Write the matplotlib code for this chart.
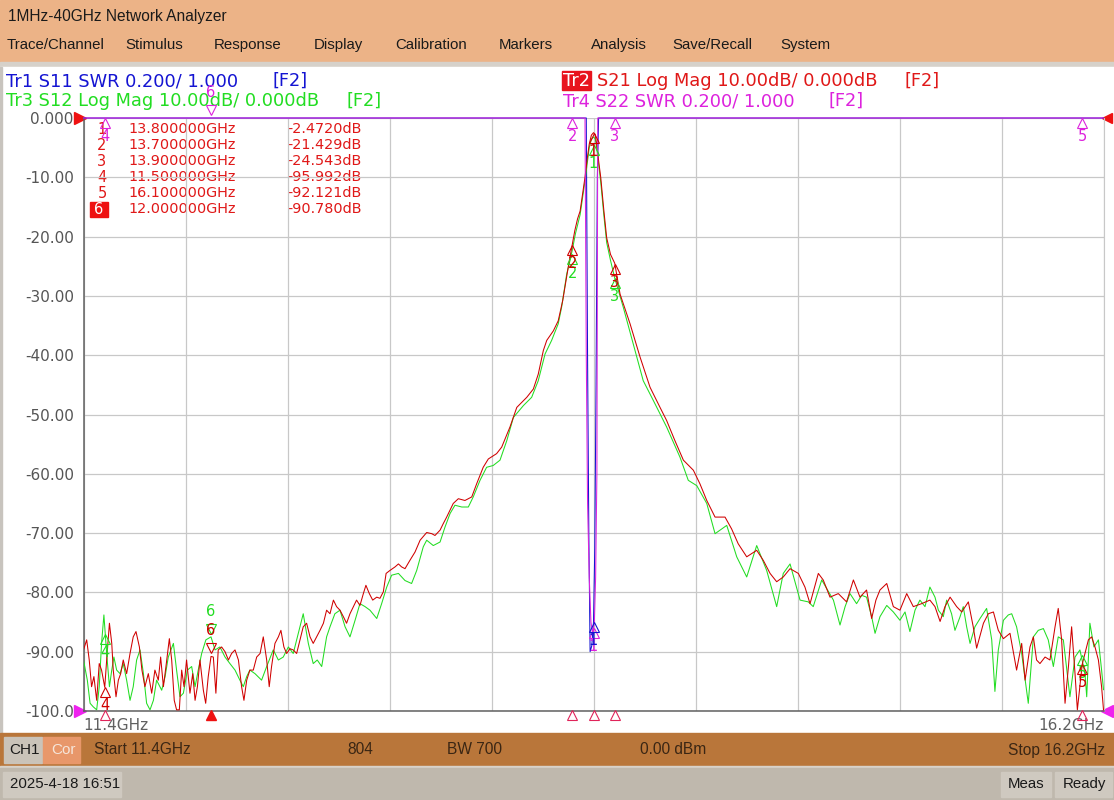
import numpy as np
import matplotlib
matplotlib.use('Agg')
import matplotlib.pyplot as plt
from matplotlib.patches import Rectangle
from matplotlib.transforms import offset_copy, blended_transform_factory

########################## trace data ##########################
# Tr2  S21  Log Mag  (GHz, dB)
s21_freq = [11.400, 11.415, 11.427, 11.438, 11.449, 11.462, 11.474, 11.485, 11.500, 11.509,
            11.522, 11.533, 11.540, 11.553, 11.564, 11.575, 11.587, 11.603, 11.619, 11.634,
            11.647, 11.663, 11.675, 11.689, 11.705, 11.721, 11.736, 11.752, 11.763, 11.776,
            11.788, 11.804, 11.815, 11.827, 11.838, 11.851, 11.862, 11.873, 11.885, 11.901,
            11.914, 11.925, 11.936, 11.948, 11.964, 11.975, 11.987, 12.000, 12.011, 12.023,
            12.034, 12.050, 12.066, 12.082, 12.097, 12.113, 12.129, 12.144, 12.155, 12.168,
            12.183, 12.199, 12.215, 12.231, 12.246, 12.262, 12.274, 12.285, 12.301, 12.317,
            12.329, 12.343, 12.356, 12.372, 12.387, 12.403, 12.419, 12.434, 12.450, 12.466,
            12.481, 12.497, 12.513, 12.529, 12.544, 12.560, 12.576, 12.591, 12.607, 12.623,
            12.638, 12.654, 12.670, 12.685, 12.701, 12.717, 12.729, 12.745, 12.761, 12.780,
            12.795, 12.811, 12.824, 12.842, 12.866, 12.882, 12.897, 12.913, 12.936, 12.960,
            12.984, 13.015, 13.039, 13.054, 13.078, 13.093, 13.109, 13.140, 13.164, 13.195,
            13.227, 13.250, 13.281, 13.305, 13.344, 13.368, 13.407, 13.439, 13.486, 13.517,
            13.540, 13.564, 13.580, 13.611, 13.634, 13.655, 13.671, 13.686, 13.700, 13.712,
            13.725, 13.737, 13.750, 13.760, 13.770, 13.780, 13.790, 13.800, 13.808, 13.815,
            13.825, 13.834, 13.849, 13.862, 13.880, 13.900, 13.925, 13.972, 14.019, 14.066,
            14.113, 14.144, 14.183, 14.223, 14.270, 14.301, 14.333, 14.372, 14.419, 14.450,
            14.481, 14.521, 14.568, 14.599, 14.631, 14.662, 14.693, 14.725, 14.764, 14.795,
            14.819, 14.858, 14.881, 14.913, 14.952, 14.991, 15.023, 15.054, 15.085, 15.109,
            15.129, 15.148, 15.180, 15.211, 15.242, 15.274, 15.305, 15.344, 15.383, 15.407,
            15.431, 15.454, 15.478, 15.509, 15.533, 15.564, 15.587, 15.603, 15.635, 15.658,
            15.682, 15.705, 15.729, 15.760, 15.791, 15.815, 15.831, 15.854, 15.870, 15.885,
            15.901, 15.925, 15.948, 15.972, 15.987, 16.003, 16.019, 16.035, 16.050, 16.066,
            16.077, 16.100, 16.129, 16.144, 16.160, 16.176, 16.191, 16.200]
s21_db = [-89.7, -88.0, -91.4, -95.9, -94.2, -98.2, -92.0, -93.1, -96.0, -91.4,
          -85.2, -88.6, -93.1, -97.6, -94.8, -93.7, -91.4, -93.7, -90.3, -87.5,
          -86.6, -89.2, -93.1, -95.9, -93.7, -97.0, -93.1, -94.8, -90.9, -95.9,
          -92.5, -87.8, -91.4, -98.2, -99.8, -99.8, -93.1, -95.9, -91.4, -97.0,
          -93.7, -98.2, -95.9, -91.4, -96.5, -98.7, -94.2, -90.8, -90.9, -97.0,
          -89.7, -89.2, -90.0, -91.4, -90.3, -89.7, -91.4, -95.9, -98.2, -94.8,
          -93.1, -93.1, -90.9, -90.3, -87.5, -91.4, -95.9, -92.5, -88.6, -87.5,
          -86.4, -89.2, -90.3, -89.5, -89.7, -90.3, -88.0, -85.8, -85.2, -87.5,
          -88.6, -87.5, -86.4, -85.2, -83.0, -83.6, -81.3, -82.4, -83.0, -84.1,
          -85.2, -83.6, -82.4, -81.3, -82.2, -80.2, -78.8, -80.2, -81.3, -80.8,
          -81.0, -79.9, -76.8, -76.3, -75.7, -75.2, -75.7, -76.0, -74.6, -73.2,
          -71.2, -69.9, -70.1, -70.4, -69.5, -68.4, -67.3, -65.0, -64.2, -64.5,
          -63.9, -61.7, -58.9, -57.5, -56.6, -55.5, -52.1, -48.8, -47.1, -45.7,
          -43.2, -39.2, -37.5, -35.9, -34.2, -30.8, -27.4, -24.1, -21.4, -19.0,
          -17.0, -15.7, -12.5, -10.0, -7.0, -4.4, -2.9, -2.47, -2.8, -4.4,
          -7.5, -10.0, -15.7, -20.2, -23.0, -24.5, -29.7, -34.7, -40.3, -45.4,
          -48.8, -51.0, -54.4, -57.7, -59.4, -61.7, -64.5, -67.3, -67.3, -69.3,
          -71.8, -74.0, -72.9, -74.6, -76.8, -78.2, -77.4, -76.0, -76.8, -79.1,
          -81.9, -76.8, -77.9, -80.8, -80.2, -81.6, -77.9, -80.8, -79.6, -84.4,
          -81.3, -79.6, -78.5, -82.4, -83.0, -80.2, -82.4, -81.9, -81.3, -82.4,
          -84.9, -82.4, -80.8, -82.4, -83.3, -81.6, -85.8, -89.4, -85.2, -83.6,
          -83.3, -86.4, -87.8, -86.9, -93.1, -88.6, -94.8, -89.2, -87.5, -91.4,
          -92.0, -90.9, -91.4, -85.8, -82.7, -88.0, -98.7, -92.5, -85.8, -93.7,
          -99.8, -92.1, -88.0, -87.5, -89.2, -91.4, -95.9, -99.8]

# Tr3  S12  Log Mag  (GHz, dB)
s12_freq = [11.400, 11.418, 11.431, 11.446, 11.462, 11.474, 11.485, 11.496, 11.509, 11.522,
            11.533, 11.543, 11.556, 11.572, 11.587, 11.603, 11.619, 11.634, 11.650, 11.666,
            11.682, 11.697, 11.713, 11.729, 11.744, 11.768, 11.784, 11.799, 11.823, 11.838,
            11.854, 11.870, 11.889, 11.909, 11.925, 11.940, 11.956, 11.976, 12.000, 12.019,
            12.042, 12.066, 12.089, 12.113, 12.136, 12.152, 12.168, 12.183, 12.207, 12.238,
            12.262, 12.293, 12.317, 12.340, 12.364, 12.387, 12.411, 12.434, 12.458, 12.481,
            12.500, 12.521, 12.544, 12.560, 12.583, 12.607, 12.631, 12.654, 12.678, 12.701,
            12.725, 12.748, 12.780, 12.803, 12.827, 12.850, 12.882, 12.913, 12.944, 12.968,
            12.999, 13.015, 13.046, 13.078, 13.101, 13.125, 13.148, 13.180, 13.211, 13.234,
            13.266, 13.297, 13.328, 13.360, 13.392, 13.423, 13.470, 13.509, 13.540, 13.572,
            13.603, 13.634, 13.650, 13.674, 13.689, 13.700, 13.715, 13.737, 13.760, 13.780,
            13.790, 13.800, 13.808, 13.815, 13.834, 13.849, 13.862, 13.880, 13.900, 13.940,
            13.987, 14.034, 14.081, 14.144, 14.207, 14.246, 14.286, 14.333, 14.372, 14.427,
            14.474, 14.521, 14.568, 14.615, 14.662, 14.693, 14.725, 14.772, 14.811, 14.834,
            14.874, 14.929, 14.960, 14.984, 15.007, 15.038, 15.062, 15.085, 15.109, 15.125,
            15.148, 15.180, 15.211, 15.242, 15.266, 15.289, 15.313, 15.336, 15.360, 15.383,
            15.407, 15.423, 15.446, 15.462, 15.485, 15.501, 15.525, 15.540, 15.556, 15.572,
            15.595, 15.619, 15.650, 15.674, 15.689, 15.705, 15.729, 15.752, 15.768, 15.791,
            15.815, 15.846, 15.870, 15.893, 15.917, 15.940, 15.964, 15.987, 16.011, 16.042,
            16.066, 16.089, 16.113, 16.121, 16.136, 16.155, 16.176, 16.191, 16.200]
s12_db = [-91.4, -94.8, -98.7, -99.3, -99.8, -95.9, -88.6, -83.8, -90.3, -95.9,
          -93.1, -90.9, -93.1, -93.7, -92.0, -94.8, -98.2, -95.9, -91.4, -89.7,
          -93.7, -98.7, -99.8, -98.2, -94.8, -96.5, -94.2, -90.9, -88.6, -93.1,
          -97.6, -97.0, -93.1, -92.5, -95.9, -93.1, -90.3, -88.0, -87.5, -89.7,
          -89.2, -90.9, -92.0, -93.1, -94.8, -95.9, -94.2, -93.1, -93.7, -94.8,
          -92.5, -89.7, -91.4, -90.9, -89.2, -90.3, -86.9, -83.6, -88.6, -92.0,
          -91.4, -92.5, -87.5, -85.8, -83.6, -83.0, -85.8, -87.5, -84.7, -81.9,
          -82.4, -83.0, -84.4, -81.9, -79.1, -77.1, -76.8, -78.0, -78.5, -76.3,
          -72.3, -71.2, -72.1, -71.5, -69.0, -66.7, -65.3, -65.6, -65.6, -63.9,
          -61.1, -58.9, -58.6, -57.7, -54.4, -50.5, -48.5, -47.1, -44.3, -39.8,
          -37.5, -34.7, -31.9, -26.3, -24.1, -22.3, -19.5, -16.3, -10.6, -5.0,
          -3.6, -3.2, -3.5, -5.0, -10.8, -16.5, -21.0, -24.0, -27.0, -31.9,
          -38.1, -44.3, -47.6, -52.1, -57.2, -61.1, -62.0, -65.0, -70.1, -68.7,
          -74.0, -77.4, -72.1, -76.3, -82.4, -76.8, -75.2, -81.3, -81.6, -82.4,
          -77.9, -81.3, -85.5, -82.4, -80.2, -81.9, -80.5, -80.8, -84.1, -86.9,
          -84.1, -82.2, -83.3, -84.7, -83.3, -86.6, -83.0, -81.3, -82.4, -79.1,
          -80.8, -83.0, -84.1, -81.3, -83.6, -86.4, -84.1, -82.4, -85.8, -88.6,
          -85.8, -84.4, -82.7, -88.0, -96.7, -89.7, -84.7, -83.8, -83.6, -85.8,
          -90.3, -98.7, -87.5, -86.4, -86.1, -88.0, -92.5, -87.5, -88.0, -97.6,
          -90.9, -89.7, -93.7, -97.6, -85.2, -89.2, -88.0, -93.1, -96.4]

# Tr1 S11 / Tr4 S22  SWR (off the top of the screen except near the passband)
s11_freq = [11.400, 13.766, 13.772, 13.778, 13.784, 13.792, 13.800, 13.806, 13.812, 13.818, 13.824, 16.200]
s11_swr = [4.00, 3.50, 2.20, 1.60, 1.20, 1.22, 1.30, 1.55, 2.10, 2.80, 3.50, 4.00]
s22_freq = [11.400, 13.760, 13.766, 13.772, 13.780, 13.788, 13.796, 13.804, 13.810, 13.816, 13.820, 16.200]
s22_swr = [4.00, 3.50, 2.20, 1.70, 1.45, 1.30, 1.26, 1.30, 1.45, 1.80, 3.50, 4.00]

########################## markers ##########################
mkr_freq = [13.8, 13.7, 13.9, 11.5, 16.1, 12.0]
mkr_s21 = [-2.472, -21.429, -24.543, -95.992, -92.121, -90.780]
mkr_s12 = [-4.6, -23.0, -27.0, -87.0, -90.5, -87.5]
mkr_freq_txt = ['13.800000GHz', '13.700000GHz', '13.900000GHz', '11.500000GHz', '16.100000GHz', '12.000000GHz']
mkr_val_txt = ['-2.4720dB', '-21.429dB', '-24.543dB', '-95.992dB', '-92.121dB', '-90.780dB']
active = 5

ytick_vals = [0, -10, -20, -30, -40, -50, -60, -70, -80, -90, -100]
ytick_txt = ['0.000', '-10.00', '-20.00', '-30.00', '-40.00', '-50.00', '-60.00', '-70.00', '-80.00', '-90.00', '-100.0']
xgrid = [11.40, 11.88, 12.36, 12.84, 13.32, 13.80, 14.28, 14.76, 15.24, 15.72, 16.20]

menu_items = ['Trace/Channel', 'Stimulus', 'Response', 'Display', 'Calibration', 'Markers', 'Analysis', 'Save/Recall', 'System']
menu_x = [7, 125, 214, 314, 395, 499, 591, 672, 780]

########################## colours ##########################
c_red = '#D00000'
c_txtred = '#E01818'
c_green = '#22DD22'
c_blue = '#1414D2'
c_mag = '#DD22DD'
c_stim = '#E0245A'

fig = plt.figure(figsize=(11.14, 8.0), dpi=100)

######################### window chrome #########################
bg = fig.add_axes([0, 0, 1, 1])
bg.set_xlim(0, 1114)
bg.set_ylim(800, 0)
bg.axis('off')
bg.add_patch(Rectangle((0, 0), 1114, 62, color='#ECB387'))
bg.add_patch(Rectangle((0, 62), 1114, 5, color='#D6D1CA'))
bg.add_patch(Rectangle((0, 67), 1114, 666, color='white'))
bg.add_patch(Rectangle((0, 67), 2, 666, color='#C8C4BE'))
bg.add_patch(Rectangle((0, 733), 1114, 33, color='#B9763A'))
bg.add_patch(Rectangle((4, 737), 38, 26, color='#CAC3B9'))
bg.add_patch(Rectangle((43, 737), 37, 26, color='#E8976A'))
bg.add_patch(Rectangle((0, 766), 1114, 2, color='#D8D2C9'))
bg.add_patch(Rectangle((0, 768), 1114, 32, color='#BFB8AD'))
bg.add_patch(Rectangle((3, 772), 118, 25, color='#CFC9C0'))
bg.add_patch(Rectangle((1001, 772), 50, 25, color='#CFC9C0'))
bg.add_patch(Rectangle((1055, 772), 57, 25, color='#CFC9C0'))

ui = 'Liberation Sans'
bg.text(8, 16, '1MHz-40GHz Network Analyzer', fontsize=11.2, family=ui, color='#1A1A1A', va='center')
for name, x in zip(menu_items, menu_x):
    bg.text(x, 45, name, fontsize=10.8, family=ui, color='#1A1A1A', va='center')

bg.text(9, 750, 'CH1', fontsize=11, family=ui, color='#1A1A1A', va='center')
bg.text(51, 750, 'Cor', fontsize=11, family=ui, color='#F6E6DA', va='center')
bg.text(94, 750, 'Start 11.4GHz', fontsize=11.2, family=ui, color='#3A2614', va='center')
bg.text(347, 750, '804', fontsize=11.2, family=ui, color='#3A2614', va='center')
bg.text(447, 750, 'BW 700', fontsize=11.2, family=ui, color='#3A2614', va='center')
bg.text(640, 750, '0.00 dBm', fontsize=11.2, family=ui, color='#3A2614', va='center')
bg.text(1105, 750, 'Stop 16.2GHz', fontsize=11.2, family=ui, color='#3A2614', va='center', ha='right')
bg.text(10, 784, '2025-4-18 16:51', fontsize=10.8, family=ui, color='#1A1A1A', va='center')
bg.text(1026, 784, 'Meas', fontsize=10.8, family=ui, color='#1A1A1A', va='center', ha='center')
bg.text(1084, 784, 'Ready', fontsize=10.8, family=ui, color='#1A1A1A', va='center', ha='center')

# trace titles
hf = 12.8
bg.text(6, 81, 'Tr1 S11 SWR 0.200/ 1.000', fontsize=hf, color=c_blue, va='center')
bg.text(272, 81, '[F2]', fontsize=hf, color=c_blue, va='center')
bg.text(6, 101, 'Tr3 S12 Log Mag 10.00dB/ 0.000dB', fontsize=hf, color=c_green, va='center')
bg.text(347, 101, '[F2]', fontsize=hf, color=c_green, va='center')
bg.add_patch(Rectangle((562, 71), 29, 19, color='#E8141E'))
bg.text(563, 81, 'Tr2', fontsize=hf, color='white', va='center')
bg.text(597, 81, 'S21 Log Mag 10.00dB/ 0.000dB', fontsize=hf, color=c_txtred, va='center')
bg.text(904, 81, '[F2]', fontsize=hf, color=c_txtred, va='center')
bg.text(563, 101, 'Tr4 S22 SWR 0.200/ 1.000', fontsize=hf, color=c_mag, va='center')
bg.text(828, 101, '[F2]', fontsize=hf, color=c_mag, va='center')

######################### measurement grid #########################
ax = fig.add_axes([83.5 / 1114, 1 - 711 / 800, 1020 / 1114, 593 / 800])
ax.set_xlim(11.4, 16.2)
ax.set_ylim(-100, 0)
ax.set_facecolor('white')
ax.set_xticks(xgrid)
ax.set_xticklabels([])
ax.set_yticks(ytick_vals)
ax.set_yticklabels(ytick_txt, fontsize=11, color='#555555')
ax.tick_params(length=0, pad=7)
ax.grid(color='#C8C8C8', lw=0.9)
ax.set_axisbelow(True)
ax.spines['top'].set_visible(False)
ax.spines['right'].set_color('#C8C8C8')
ax.spines['left'].set_color('#606060')
ax.spines['bottom'].set_color('#606060')
ax.spines['left'].set_linewidth(1.1)
ax.spines['bottom'].set_linewidth(1.1)

ax.text(0, -0.012, '11.4GHz', transform=ax.transAxes, fontsize=11, color='#606060', ha='left', va='top')
ax.text(1, -0.012, '16.2GHz', transform=ax.transAxes, fontsize=11, color='#606060', ha='right', va='top')

def swr_to_grid(swr):
    # SWR 0.200/div, reference 1.000 at the bottom line
    return np.minimum(-100 + (np.array(swr) - 1.0) / 0.2 * 10, 0)

lw = 0.75
ax.plot(s11_freq, swr_to_grid(s11_swr), color=c_blue, lw=lw, clip_on=False, zorder=3)
ax.plot(s12_freq, s12_db, color=c_green, lw=lw, zorder=4)
ax.plot(s21_freq, s21_db, color=c_red, lw=lw, zorder=5)
ax.plot(s22_freq, swr_to_grid(s22_swr), color=c_mag, lw=lw, clip_on=False, zorder=6)

######################### markers #########################
def mark(f, v, col, lab, act=False, z=8, dy=0):
    if act:
        tri = offset_copy(ax.transData, fig=fig, x=0, y=6, units='points')
        txt = offset_copy(ax.transData, fig=fig, x=0, y=13 + dy, units='points')
        ax.plot([f], [v], marker='v', ms=7.5, mfc='none', mec=col, mew=0.8,
                transform=tri, clip_on=False, zorder=z)
        ax.text(f, v, lab, transform=txt, ha='center', va='bottom', color=col, fontsize=10.5, zorder=z)
    else:
        tri = offset_copy(ax.transData, fig=fig, x=0, y=-3.6, units='points')
        txt = offset_copy(ax.transData, fig=fig, x=0, y=-8 - dy, units='points')
        ax.plot([f], [v], marker='^', ms=7.5, mfc='none', mec=col, mew=0.8,
                transform=tri, clip_on=False, zorder=z)
        ax.text(f, v, lab, transform=txt, ha='center', va='top', color=col, fontsize=10.5, zorder=z)

for i, f in enumerate(mkr_freq):
    lab = str(i + 1)
    mark(f, mkr_s12[i], c_green, lab, i == active)
    mark(f, mkr_s21[i], c_red, lab, i == active)
    v22 = float(swr_to_grid(np.interp(f, s22_freq, s22_swr)))
    mark(f, v22, c_mag, lab, i == active)
mark(13.8, float(swr_to_grid(np.interp(13.8, s11_freq, s11_swr))), c_blue, '1')

# stimulus markers under the grid
stim = offset_copy(ax.transData, fig=fig, x=0, y=-2.8, units='points')
for i, f in enumerate(mkr_freq):
    if i == active:
        ax.plot([f], [-100], marker='^', ms=7.5, mfc='#EE1111', mec='#EE1111', transform=stim, clip_on=False, zorder=9)
    else:
        ax.plot([f], [-100], marker='^', ms=7.5, mfc='none', mec=c_stim, mew=0.8, transform=stim, clip_on=False, zorder=9)

# reference level arrows
ref = blended_transform_factory(ax.transAxes, ax.transData)
ax.plot([-0.0038], [0], marker='>', ms=8, color='#EE1111', transform=ref, clip_on=False)
ax.plot([-0.0038], [-100], marker='>', ms=8, color='#EE22EE', transform=ref, clip_on=False)
ax.plot([1.0038], [-100], marker='<', ms=8, color='#EE22EE', transform=ref, clip_on=False)
ax.plot([1.0038], [0], marker='<', ms=7, color='#EE1111', transform=ref, clip_on=False)

######################### marker table #########################
for i in range(len(mkr_freq)):
    y = 129 + 16 * i
    if i == active:
        bg.add_patch(Rectangle((90, y - 7), 18, 15, color='#EE1111', zorder=20))
        bg.text(99, y, str(i + 1), fontsize=10.5, color='white', ha='center', va='center', zorder=21)
    else:
        bg.text(102, y, str(i + 1), fontsize=10.5, color=c_txtred, ha='center', va='center', zorder=21)
    bg.text(128, y, mkr_freq_txt[i], fontsize=10.4, color=c_txtred, va='center', zorder=21)
    bg.text(362, y, mkr_val_txt[i], fontsize=10.4, color=c_txtred, va='center', ha='right', zorder=21)
bg.set_zorder(0)
ax.set_zorder(1)
ax.patch.set_alpha(0)

fig.savefig('out.png', dpi=100)
